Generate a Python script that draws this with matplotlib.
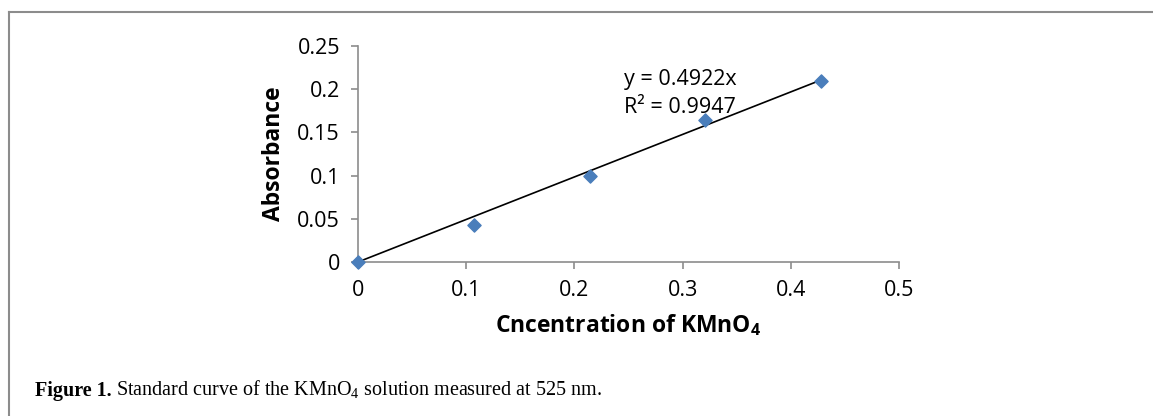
import numpy as np
import matplotlib.pyplot as plt
from matplotlib.lines import Line2D

# Dados
conc = [0.0, 0.107, 0.214, 0.321, 0.428]
absorb = [0.0, 0.043, 0.100, 0.164, 0.210]
slope = 0.4922
r2 = 0.9947
xticks = [0, 0.1, 0.2, 0.3, 0.4, 0.5]
yticks = [0, 0.05, 0.1, 0.15, 0.2, 0.25]
xtick_labels = ['0', '0.1', '0.2', '0.3', '0.4', '0.5']
ytick_labels = ['0', '0.05', '0.1', '0.15', '0.2', '0.25']

plt.rcParams['font.family'] = ['Open Sans', 'DejaVu Sans']
plt.rcParams['mathtext.fontset'] = 'custom'
plt.rcParams['mathtext.bf'] = 'Open Sans:bold'
plt.rcParams['mathtext.rm'] = 'Liberation Serif'
gray = '#8c8c8c'

W, H = 1153, 416
fig = plt.figure(figsize=(W / 100, H / 100), dpi=100)
ax = fig.add_axes([358 / W, 1 - 262 / H, (899 - 358) / W, (262 - 46) / H])

# Linha de tendência
xfit = np.array([0, conc[-1]])
ax.plot(xfit, slope * xfit, color='black', lw=1.2, zorder=2)
ax.scatter(conc, absorb, marker='D', s=45, color='#4a7ebb', zorder=3, clip_on=False)

ax.set_xlim(0, 0.5)
ax.set_ylim(0, 0.25)
ax.set_xticks(xticks)
ax.set_xticklabels(xtick_labels)
ax.set_yticks(yticks)
ax.set_yticklabels(ytick_labels)
ax.tick_params(axis='both', labelsize=15.5, color=gray, length=5, width=1.2, direction='out')
ax.tick_params(axis='x', pad=8)
ax.tick_params(axis='y', pad=8)
for s in ['top', 'right']:
    ax.spines[s].set_visible(False)
for s in ['left', 'bottom']:
    ax.spines[s].set_color(gray)
    ax.spines[s].set_linewidth(1.2)

ax.set_xlabel('Cncentration of KMnO$_\\mathbf{4}$', fontsize=16.5, fontweight='bold', labelpad=8)
ax.set_ylabel('Absorbance', fontsize=16.5, fontweight='bold', labelpad=8)

ax.text(0.246, 0.205, 'y = %.4fx' % slope, fontsize=15.5, va='baseline', ha='left')
ax.text(0.246, 0.1725, 'R² = %.4f' % r2, fontsize=15.5, va='baseline', ha='left')

# Moldura e legenda da figura
fig.add_artist(Line2D([9 / W, 1], [1 - 12 / H] * 2, color=gray, lw=1.5))
fig.add_artist(Line2D([9 / W] * 2, [0, 1 - 12 / H], color=gray, lw=1.5))
t1 = fig.text(35 / W, 1 - 396 / H, 'Figure 1.', fontsize=14.5, fontweight='bold',
              family='Liberation Serif', va='baseline')
fig.canvas.draw()
bb = t1.get_window_extent()
fig.text((bb.x1 + 4) / W, 1 - 396 / H,
         'Standard curve of the KMnO$_4$ solution measured at 525 nm.',
         fontsize=14.5, family='Liberation Serif', va='baseline')

fig.savefig('out.png', dpi=100)
